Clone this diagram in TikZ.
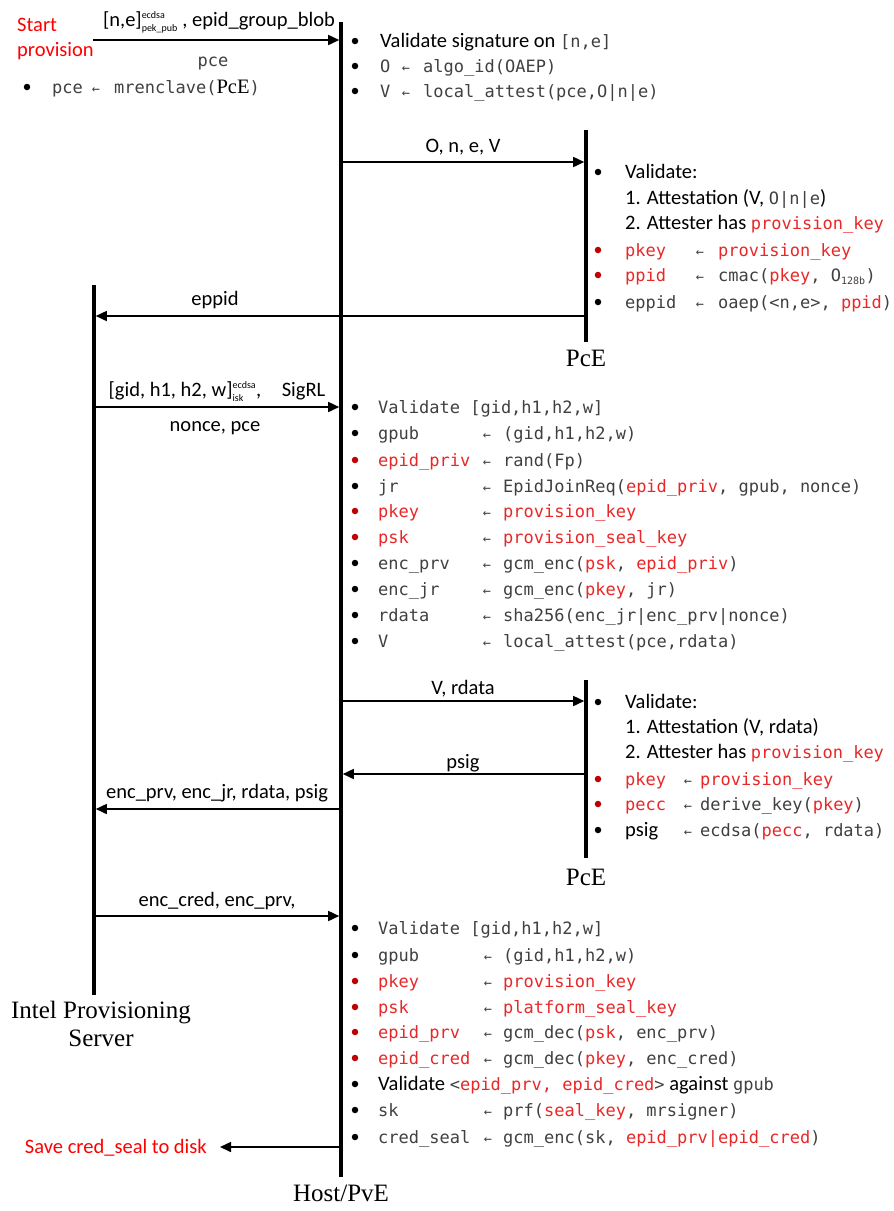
\documentclass[tikz,border=0pt]{standalone}
\usepackage{fontspec}
\usetikzlibrary{arrows.meta,calc}
\setmainfont{Carlito}
\newfontfamily\monof{DejaVu Sans Mono}
\newfontfamily\serf{Liberation Serif}
\definecolor{gtxt}{RGB}{64,64,64}
\definecolor{rtxt}{RGB}{232,40,40}
\definecolor{rbul}{RGB}{192,0,0}
\definecolor{startred}{RGB}{255,0,0}
\newcommand\calsz{\fontsize{20.5}{23}\selectfont}
\newcommand\mo[1]{{\monof\fontsize{17}{20}\selectfont\color{gtxt}#1}}
\newcommand\rd[1]{{\monof\fontsize{17}{20}\selectfont\color{rtxt}#1}}
\newcommand\supsub[2]{$^{\hbox{\fontsize{10}{10}\selectfont #1}}_{\hbox{\fontsize{10}{10}\selectfont #2}}$}
\newcommand\msub[1]{$_{\hbox{\monof\fontsize{10}{10}\selectfont\color{gtxt}#1}}$}
\newcommand\colB{0}\newcommand\colL{0}\newcommand\colA{0}\newcommand\colR{0}
\newcommand\setcols[4]{\renewcommand\colB{#1}\renewcommand\colL{#2}\renewcommand\colA{#3}\renewcommand\colR{#4}}
% entry: name, y (visual centre), dot style, lhs, rhs
\newcommand\ent[5]{%
  \node[#3] (#1d) at (\colB,#2) {};
  \node[t] (#1l) at (\colL,{#2+6}) {#4};
  \node[la] (#1a) at (\colA,{#2+6}) {←};
  \node[t] (#1r) at (\colR,{#2+6}) {#5};}
% plain line: name, y, dot style (or none), text
\newcommand\pl[4]{%
  \node[#3] (#1d) at (\colB,#2) {};
  \node[t] (#1l) at (\colL,{#2+6}) {#4};}
\tikzset{
  life/.style={line width=3.6pt},
  msg/.style={line width=1.6pt, -{Triangle[length=11pt,width=10pt]}, shorten >=1.8pt},
  t/.style={inner sep=0pt, anchor=base west, font=\calsz},
  tc/.style={inner sep=0pt, anchor=base, font=\calsz},
  actor/.style={inner sep=0pt, anchor=base, font=\serf\fontsize{25}{28}\selectfont},
  dot/.style={circle, inner sep=0pt, minimum size=6.5pt, fill=black},
  rdot/.style={dot, fill=rbul},
  nodot/.style={inner sep=0pt},
  la/.style={inner sep=0pt, anchor=base, font=\monof\fontsize{13.5}{14}\selectfont, text=gtxt},
}
\begin{document}
\begin{tikzpicture}[x=1pt,y=-1pt]
\fill[white] (0,0) rectangle (894,1211);
\useasboundingbox (0,0) rectangle (894,1211);

% lifelines
\coordinate (hT) at (341,22);  \coordinate (hB) at (341,1177);
\coordinate (p1T) at (586,130); \coordinate (p1B) at (586,342);
\coordinate (p2T) at (586,680); \coordinate (p2B) at (586,858);
\coordinate (sT) at (94,285);  \coordinate (sB) at (94,995);
\draw[life] (hT) -- (hB);
\draw[life] (p1T) -- (p1B);
\draw[life] (p2T) -- (p2B);
\draw[life] (sT) -- (sB);
\node[actor] (hostlbl) at (341,1201) {Host/PvE};
\node[actor] (pce1lbl) at (586,366) {PcE};
\node[actor] (pce2lbl) at (586,885) {PcE};
\node[actor] (srv1) at (101,1018) {Intel Provisioning};
\node[actor] (srv2) at (101,1046) {Server};

% start
\node[t, text=startred] (start1) at (17,31) {Start};
\node[t, text=startred] (start2) at (17,56) {provision};
\coordinate (m1a) at (93,40); \coordinate (m1b) at (341,40);
\draw[msg] (m1a) -- (m1b);
\node[tc] (m1t) at (219,26) {[n,e]\supsub{ecdsa}{pek\_pub} , epid\_group\_blob};
\node[tc] (m1u) at (213,66) {\mo{pce}};
\node[dot] (tl1d) at (27,87) {};
\node[t] (tl1l) at (52,93) {\mo{pce}};
\node[la] (tl1a) at (96,93) {←};
\node[t] (tl1r) at (114,93) {\mo{mrenclave(}{\serf PcE}\mo{)}};

% host block 1
\setcols{355}{380}{406}{423}
\pl{hA1}{41}{dot}{Validate signature on \mo{[n,e]}}
\ent{hA2}{66}{dot}{\mo{O}}{\mo{algo\_id(OAEP)}}
\ent{hA3}{91}{dot}{\mo{V}}{\mo{local\_attest(pce,O|n|e)}}

% message 2
\coordinate (m2a) at (341,162); \coordinate (m2b) at (586,162);
\draw[msg] (m2a) -- (m2b);
\node[tc] (m2t) at (463,152) {O, n, e, V};

% PcE block 1
\setcols{598}{625}{700}{718}
\pl{pA1}{172}{dot}{Validate:}
\pl{pA2}{198}{nodot}{1. Attestation (V, \mo{O|n|e})}
\pl{pA3}{223}{nodot}{2. Attester has \rd{provision\_key}}
\ent{pA4}{250}{rdot}{\rd{pkey}}{\rd{provision\_key}}
\ent{pA5}{275}{rdot}{\rd{ppid}}{\mo{cmac(}\rd{pkey}\mo{, O}\msub{128b}\mo{)}}
\ent{pA6}{302}{dot}{\mo{eppid}}{\mo{oaep(<n,e>, }\rd{ppid}\mo{)}}

% message 3
\coordinate (m3a) at (586,316); \coordinate (m3b) at (94,316);
\draw[msg] (m3a) -- (m3b);
\node[tc] (m3t) at (215,305) {eppid};

% message 4
\coordinate (m4a) at (94,407); \coordinate (m4b) at (341,407);
\draw[msg] (m4a) -- (m4b);
\node[tc] (m4t) at (217,396) {[gid, h1, h2, w]\supsub{ecdsa}{isk},\quad SigRL};
\node[tc] (m4u) at (215,431) {nonce, pce};

% host block 2
\setcols{355}{378}{487}{503}
\pl{hB1}{407}{dot}{\mo{Validate [gid,h1,h2,w]}}
\ent{hB2}{433}{dot}{\mo{gpub}}{\mo{(gid,h1,h2,w)}}
\ent{hB3}{460}{rdot}{\rd{epid\_priv}}{\mo{rand(Fp)}}
\ent{hB4}{486}{dot}{\mo{jr}}{\mo{EpidJoinReq(}\rd{epid\_priv}\mo{, gpub, nonce)}}
\ent{hB5}{511}{rdot}{\rd{pkey}}{\rd{provision\_key}}
\ent{hB6}{537}{rdot}{\rd{psk}}{\rd{provision\_seal\_key}}
\ent{hB7}{563}{dot}{\mo{enc\_prv}}{\mo{gcm\_enc(}\rd{psk}\mo{, }\rd{epid\_priv}\mo{)}}
\ent{hB8}{589}{dot}{\mo{enc\_jr}}{\mo{gcm\_enc(}\rd{pkey}\mo{, jr)}}
\ent{hB9}{615}{dot}{\mo{rdata}}{\mo{sha256(enc\_jr|enc\_prv|nonce)}}
\ent{hB10}{641}{dot}{\mo{V}}{\mo{local\_attest(pce,rdata)}}

% message 5
\coordinate (m5a) at (341,701); \coordinate (m5b) at (586,701);
\draw[msg] (m5a) -- (m5b);
\node[tc] (m5t) at (463,694) {V, rdata};

% PcE block 2
\setcols{598}{625}{688}{700}
\pl{pB1}{702}{dot}{Validate:}
\pl{pB2}{727}{nodot}{1. Attestation (V, rdata)}
\pl{pB3}{752}{nodot}{2. Attester has \rd{provision\_key}}
\ent{pB4}{779}{rdot}{\rd{pkey}}{\rd{provision\_key}}
\ent{pB5}{804}{rdot}{\rd{pecc}}{\mo{derive\_key(}\rd{pkey}\mo{)}}
\ent{pB6}{830}{dot}{psig}{\mo{ecdsa(}\rd{pecc}\mo{, rdata)}}

% message 6
\coordinate (m6a) at (586,774); \coordinate (m6b) at (341,774);
\draw[msg] (m6a) -- (m6b);
\node[tc] (m6t) at (463,768) {psig};

% message 7
\coordinate (m7a) at (341,809); \coordinate (m7b) at (94,809);
\draw[msg] (m7a) -- (m7b);
\node[tc] (m7t) at (217,798) {enc\_prv, enc\_jr, rdata, psig};

% message 8
\coordinate (m8a) at (94,916); \coordinate (m8b) at (341,916);
\draw[msg] (m8a) -- (m8b);
\node[tc] (m8t) at (217,906) {enc\_cred, enc\_prv,};

% host block 3
\setcols{355}{378}{488}{503}
\pl{hC1}{928}{dot}{\mo{Validate [gid,h1,h2,w]}}
\ent{hC2}{955}{dot}{\mo{gpub}}{\mo{(gid,h1,h2,w)}}
\ent{hC3}{981}{rdot}{\rd{pkey}}{\rd{provision\_key}}
\ent{hC4}{1007}{rdot}{\rd{psk}}{\rd{platform\_seal\_key}}
\ent{hC5}{1032}{rdot}{\rd{epid\_prv}}{\mo{gcm\_dec(}\rd{psk}\mo{, enc\_prv)}}
\ent{hC6}{1058}{rdot}{\rd{epid\_cred}}{\mo{gcm\_dec(}\rd{pkey}\mo{, enc\_cred)}}
\pl{hC7}{1084}{dot}{Validate \mo{<}\rd{epid\_prv, epid\_cred}\mo{>} against \mo{gpub}}
\ent{hC8}{1110}{dot}{\mo{sk}}{\mo{prf(}\rd{seal\_key}\mo{, mrsigner)}}
\ent{hC9}{1137}{dot}{\mo{cred\_seal}}{\mo{gcm\_enc(sk, }\rd{epid\_prv|epid\_cred}\mo{)}}

% message 9
\coordinate (m9a) at (341,1147); \coordinate (m9b) at (220,1147);
\draw[msg, shorten >=0pt] (m9a) -- (m9b);
\node[t, anchor=base east, text=startred] (save) at (207,1153) {Save cred\_seal to disk};
\end{tikzpicture}
\end{document}
